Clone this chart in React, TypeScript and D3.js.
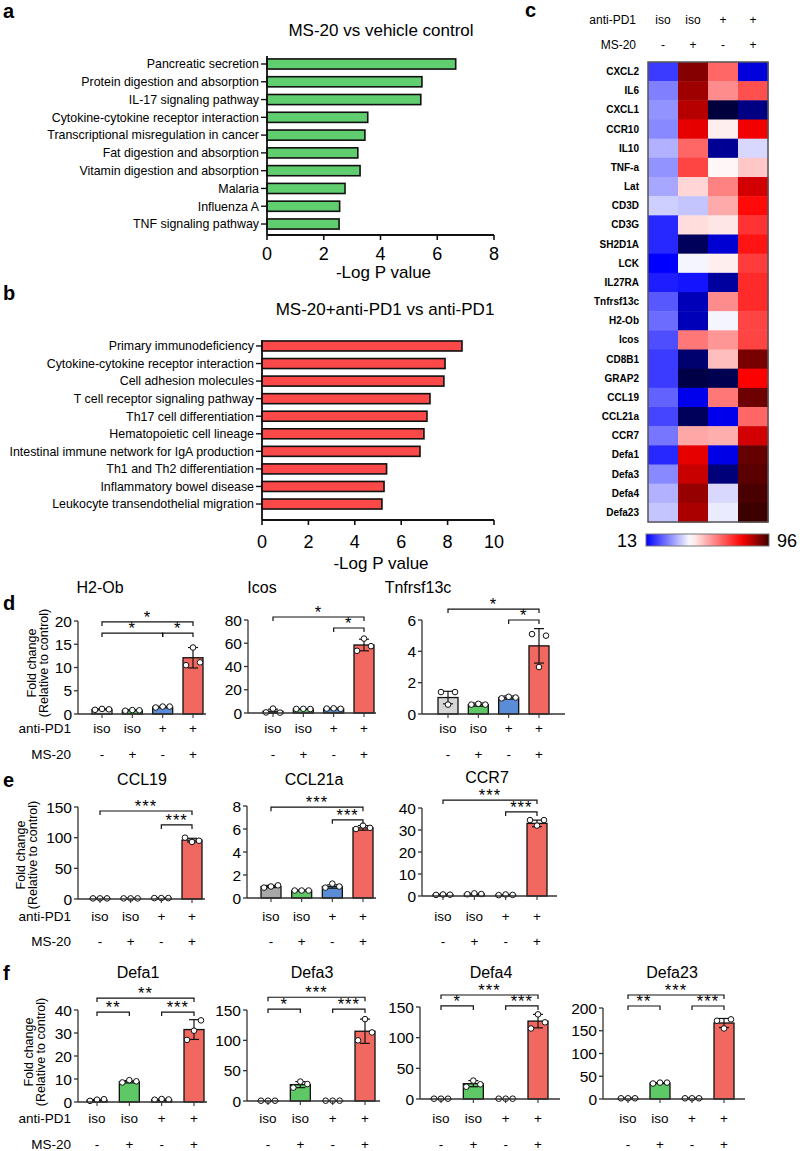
import React from "react";
import * as d3 from "d3";

const FONT = "Arial, 'Liberation Sans', Helvetica, sans-serif";

// ---------- Panel a ----------
const aTerms = [
  "Pancreatic secretion",
  "Protein digestion and absorption",
  "IL-17 signaling pathway",
  "Cytokine-cytokine receptor interaction",
  "Transcriptional misregulation in cancer",
  "Fat digestion and absorption",
  "Vitamin digestion and absorption",
  "Malaria",
  "Influenza A",
  "TNF signaling pathway",
];
const aValues = [6.65, 5.46, 5.42, 3.55, 3.45, 3.2, 3.28, 2.75, 2.56, 2.54];
const aTicks = [0, 2, 4, 6, 8];

// ---------- Panel b ----------
const bTerms = [
  "Primary immunodeficiency",
  "Cytokine-cytokine receptor interaction",
  "Cell adhesion molecules",
  "T cell receptor signaling pathway",
  "Th17 cell differentiation",
  "Hematopoietic cell lineage",
  "Intestinal immune network for IgA production",
  "Th1 and Th2 differentiation",
  "Inflammatory bowel disease",
  "Leukocyte transendothelial migration",
];
const bValues = [8.62, 7.89, 7.84, 7.24, 7.11, 6.98, 6.81, 5.37, 5.26, 5.17];
const bTicks = [0, 2, 4, 6, 8, 10];

// ---------- Panel c (heatmap) ----------
const hmGenes = [
  "CXCL2", "IL6", "CXCL1", "CCR10", "IL10", "TNF-a", "Lat", "CD3D", "CD3G",
  "SH2D1A", "LCK", "IL27RA", "Tnfrsf13c", "H2-Ob", "Icos", "CD8B1", "GRAP2",
  "CCL19", "CCL21a", "CCR7", "Defa1", "Defa3", "Defa4", "Defa23",
];
const hmPD1 = ["iso", "iso", "+", "+"];
const hmMS20 = ["-", "+", "-", "+"];
const hmValues = [
  [30, 90, 68, 22],
  [37, 88, 63.5, 70.6],
  [39, 86, 13, 17],
  [38, 82, 52, 81],
  [42, 68, 18, 46],
  [39, 72, 51, 56.5],
  [41, 55, 64.7, 83.7],
  [45, 44, 60, 79],
  [28, 54, 53, 74],
  [28, 14.7, 21.5, 77.6],
  [24, 49, 52, 73],
  [27, 26, 18.6, 75],
  [33, 20, 63.5, 75],
  [35, 20, 49, 72],
  [32, 66, 62.4, 72],
  [30, 15.8, 57.6, 91],
  [30, 13.6, 14.1, 80],
  [34, 23, 66, 92],
  [31, 14.7, 23, 68],
  [36, 60.5, 59.5, 83.7],
  [28, 82, 22.6, 92.7],
  [38, 84.5, 16.4, 93.5],
  [42, 88.6, 46, 94.8],
  [44, 87, 48, 96],
];
const hmMin = 13;
const hmMax = 96;

// ---------- Panels d-f ----------
const groupPD1 = ["iso", "iso", "+", "+"];
const groupMS20 = ["-", "+", "-", "+"];

const h2obMeans = [1.0, 0.8, 1.5, 12.1];
const h2obSD = [0.1, 0.1, 0.15, 2.2];
const h2obPts = [[0.9, 1.1, 1.0], [0.7, 0.85, 0.8], [1.4, 1.6, 1.6], [10.5, 14.3, 11.1]];

const icosMeans = [1.5, 3.5, 3.8, 58.5];
const icosSD = [1.8, 0.3, 0.4, 5];
const icosPts = [[0.5, 3.8, 0.3], [3.5, 3.6, 3.4], [3.8, 4.0, 3.6], [53.5, 64, 57.5]];

const tnfMeans = [1.05, 0.6, 1.05, 4.35];
const tnfSD = [0.4, 0.1, 0.1, 1.1];
const tnfPts = [[1.4, 0.6, 1.4], [0.6, 0.65, 0.6], [1.0, 1.1, 1.05], [5.1, 3.0, 5.0]];

const ccl19Means = [1, 1, 1.5, 96];
const ccl19SD = [0.1, 0.1, 0.2, 3];
const ccl19Pts = [[1, 1, 1], [1, 1, 1], [1.5, 1.5, 1.5], [100, 93, 95]];

const ccl21Means = [1.0, 0.65, 1.0, 6.1];
const ccl21SD = [0.1, 0.05, 0.15, 0.2];
const ccl21Pts = [[0.9, 1.0, 1.1], [0.65, 0.65, 0.65], [0.9, 1.25, 1.0], [6.0, 6.3, 6.1]];

const ccr7Means = [0.6, 0.9, 0.5, 33];
const ccr7SD = [0.2, 0.3, 0.2, 1.5];
const ccr7Pts = [[0.5, 0.7, 0.6], [0.8, 1.2, 0.9], [0.4, 0.7, 0.5], [34.5, 32, 34.5]];

const defa1Means = [0.8, 8.8, 1.0, 31.5];
const defa1SD = [0.3, 0.5, 0.3, 4.3];
const defa1Pts = [[0.5, 1.0, 1.2], [8.5, 9.5, 9.0], [1.0, 1.3, 1.1], [27, 31, 35.5]];

const defa3Means = [0.5, 27, 0.5, 115];
const defa3SD = [0.3, 5, 0.3, 20];
const defa3Pts = [[0.5, 0.5, 0.5], [22, 32, 28], [0.5, 0.5, 0.5], [100, 135, 113]];

const defa4Means = [0.5, 25, 0.5, 127];
const defa4SD = [0.3, 5, 0.3, 11];
const defa4Pts = [[0.5, 0.5, 0.5], [20, 30, 24], [0.5, 0.5, 0.5], [115, 138, 125]];

const defa23Means = [1.5, 35, 1.5, 167];
const defa23SD = [0.3, 1, 0.3, 10];
const defa23Pts = [[1.5, 1.5, 1.5], [34, 36, 36], [1.5, 1.5, 1.5], [172, 155, 175]];

// brackets: [fromGroup, toGroup, heightInDataUnits, label]
const h2obBr: [number, number, number, string][] = [[0, 3, 19.8, "*"], [0, 2, 17.4, "*"], [2, 3, 17.4, "*"]];
const icosBr: [number, number, number, string][] = [[0, 3, 82.6, "*"], [2, 3, 73.1, "*"]];
const tnfBr: [number, number, number, string][] = [[0, 3, 6.7, "*"], [2, 3, 6.0, "*"]];
const ccl19Br: [number, number, number, string][] = [[0, 3, 143.5, "***"], [2, 3, 120.7, "***"]];
const ccl21Br: [number, number, number, string][] = [[0, 3, 7.9, "***"], [2, 3, 6.8, "***"]];
const ccr7Br: [number, number, number, string][] = [[0, 3, 43.6, "***"], [2, 3, 38.2, "***"]];
const defa1Br: [number, number, number, string][] = [[0, 3, 45.2, "**"], [0, 1, 39.1, "**"], [2, 3, 39.1, "***"]];
const defa3Br: [number, number, number, string][] = [[0, 3, 171, "***"], [0, 1, 151.6, "*"], [2, 3, 151.6, "***"]];
const defa4Br: [number, number, number, string][] = [[0, 3, 169.6, "***"], [0, 1, 151.7, "*"], [2, 3, 151.7, "***"]];
const defa23Br: [number, number, number, string][] = [[0, 3, 228.6, "***"], [0, 1, 204.4, "**"], [2, 3, 204.4, "***"]];

const GREEN = "#5ec866";
const BLUE = "#5b8cd6";
const RED = "#f0685f";

interface ChartSpec {
  title: string;
  tx: number;
  ty: number;
  ax: number;
  c0: number;
  c3: number;
  xEnd: number;
  y0: number;
  yTop: number;
  max: number;
  ticks: number[];
  means: number[];
  sds: number[];
  pts: number[][];
  br: [number, number, number, string][];
  firstFill: string;
  ly1: number;
  ly2: number;
  rowNames: boolean;
}

function BarChart({ s }: { s: ChartSpec }) {
  const y = d3.scaleLinear().domain([0, s.max]).range([s.y0, s.yTop]);
  const x = d3.scalePoint<number>().domain([0, 1, 2, 3]).range([s.c0, s.c3]);
  const bw = 20;
  const fills = [s.firstFill, GREEN, BLUE, RED];
  const offs = [-7, 0, 7];
  const axisColor = "#333";
  return (
    <g fontFamily={FONT}>
      <text x={s.tx} y={s.ty} fontSize={16} textAnchor="middle">{s.title}</text>
      {s.means.map((m, i) => (
        <rect key={"b" + i} x={x(i)! - bw / 2} y={y(m)} width={bw} height={s.y0 - y(m)}
          fill={fills[i]} stroke="#111" strokeWidth={1.3} />
      ))}
      {s.means.map((m, i) => {
        const cx = x(i)!;
        const hi = y(m + s.sds[i]);
        const lo = y(Math.max(0, m - s.sds[i]));
        return (
          <g key={"e" + i} stroke="#111" strokeWidth={1.2}>
            <line x1={cx} x2={cx} y1={hi} y2={lo} />
            <line x1={cx - 5} x2={cx + 5} y1={hi} y2={hi} />
            <line x1={cx - 5} x2={cx + 5} y1={lo} y2={lo} />
          </g>
        );
      })}
      {s.pts.map((arr, i) =>
        arr.map((v, k) => (
          <circle key={"p" + i + "-" + k} cx={x(i)! + offs[k]} cy={y(v)} r={2.8}
            fill="#fff" stroke="#111" strokeWidth={1} />
        ))
      )}
      <line x1={s.ax} x2={s.ax} y1={s.yTop} y2={s.y0} stroke={axisColor} strokeWidth={1.3} />
      <line x1={s.ax} x2={s.xEnd} y1={s.y0} y2={s.y0} stroke={axisColor} strokeWidth={1.3} />
      {s.ticks.map((t) => (
        <g key={"t" + t}>
          <line x1={s.ax - 4} x2={s.ax} y1={y(t)} y2={y(t)} stroke={axisColor} strokeWidth={1.3} />
          <text x={s.ax - 6} y={y(t) + 5.5} fontSize={15.5} textAnchor="end">{t}</text>
        </g>
      ))}
      {[0, 1, 2, 3].map((i) => (
        <line key={"xt" + i} x1={x(i)} x2={x(i)} y1={s.y0} y2={s.y0 + 4} stroke={axisColor} strokeWidth={1.1} />
      ))}
      {s.br.map(([a, b, h, lab], k) => {
        const yy = y(h);
        const xa = x(a)!;
        const xb = x(b)!;
        return (
          <g key={"br" + k}>
            <path d={`M${xa},${yy + 4}V${yy}H${xb}V${yy + 4}`} fill="none" stroke="#111" strokeWidth={1.2} />
            <text x={(xa + xb) / 2} y={yy + 1} fontSize={16.5} textAnchor="middle" letterSpacing={1}>{lab}</text>
          </g>
        );
      })}
      {s.rowNames && (
        <g fontSize={13.5} textAnchor="end">
          <text x={71} y={s.ly1}>anti-PD1</text>
          <text x={71} y={s.ly2}>MS-20</text>
        </g>
      )}
      {groupPD1.map((g, i) => (
        <text key={"g1" + i} x={x(i)} y={s.ly1} fontSize={13.5} textAnchor="middle">{g}</text>
      ))}
      {groupMS20.map((g, i) => (
        <text key={"g2" + i} x={x(i)} y={s.ly2} fontSize={13.5} textAnchor="middle">{g}</text>
      ))}
    </g>
  );
}

function YTitle({ x, y }: { x: number; y: number }) {
  return (
    <g fontFamily={FONT} fontSize={12.5} textAnchor="middle">
      <text transform={`translate(${x},${y}) rotate(-90)`}>Fold change</text>
      <text transform={`translate(${x + 12},${y}) rotate(-90)`}>(Relative to control)</text>
    </g>
  );
}

function HBarPanel({
  terms, values, ticks, max, x0, x1, yStart, step, axisY, yAxisTop, fill, tickLabelY, titleY, title, titleX, xTitleY,
}: {
  terms: string[]; values: number[]; ticks: number[]; max: number; x0: number; x1: number;
  yStart: number; step: number; axisY: number; yAxisTop: number; fill: string; tickLabelY: number;
  titleY: number; title: string; titleX: number; xTitleY: number;
}) {
  const x = d3.scaleLinear().domain([0, max]).range([x0, x1]);
  const yb = d3.scaleBand<string>().domain(terms).range([yStart, yStart + step * terms.length]).paddingInner(0.43).paddingOuter(0.215);
  return (
    <g fontFamily={FONT}>
      <text x={titleX} y={titleY} fontSize={17} textAnchor="middle">{title}</text>
      {terms.map((t, i) => (
        <g key={t}>
          <rect x={x0} y={yb(t)} width={x(values[i]) - x0} height={yb.bandwidth()} fill={fill} stroke="#111" strokeWidth={1.6} />
          <line x1={x0 - 6} x2={x0} y1={yb(t)! + yb.bandwidth() / 2} y2={yb(t)! + yb.bandwidth() / 2} stroke="#111" strokeWidth={1.4} />
          <text x={x0 - 8} y={yb(t)! + yb.bandwidth() / 2 + 4.3} fontSize={12.4} textAnchor="end">{t}</text>
        </g>
      ))}
      <line x1={x0} x2={x0} y1={yAxisTop} y2={axisY} stroke="#111" strokeWidth={1.8} />
      <line x1={x0} x2={x1} y1={axisY} y2={axisY} stroke="#111" strokeWidth={1.8} />
      {ticks.map((t) => (
        <g key={t}>
          <line x1={x(t)} x2={x(t)} y1={axisY} y2={axisY + 5} stroke="#111" strokeWidth={1.6} />
          <text x={x(t)} y={tickLabelY} fontSize={18} textAnchor="middle">{t}</text>
        </g>
      ))}
      <text x={(x0 + x1) / 2 + 3} y={xTitleY} fontSize={17} textAnchor="middle">-Log P value</text>
    </g>
  );
}

function Heatmap() {
  const left = 648, right = 768, top = 62, bottom = 522;
  const xb = d3.scaleBand<number>().domain([0, 1, 2, 3]).range([left, right]);
  const yb = d3.scaleBand<string>().domain(hmGenes).range([top, bottom]);
  const color = d3.scaleLinear<string>()
    .domain([hmMin, 24, 50, 80, hmMax])
    .range(["#00003c", "#0000ff", "#ffffff", "#ff0000", "#3c0000"])
    .interpolate(d3.interpolateRgb);
  const cbL = 646, cbR = 769, cbT = 534, cbB = 546;
  const stops = d3.range(0, 1.0001, 0.05).map((t) => ({ t, c: color(24 + t * (hmMax - 24)) }));
  return (
    <g fontFamily={FONT}>
      <defs>
        <linearGradient id="cbgrad" x1="0" x2="1" y1="0" y2="0">
          {stops.map((s) => (
            <stop key={s.t} offset={`${s.t * 100}%`} stopColor={s.c} />
          ))}
        </linearGradient>
      </defs>
      <text x={636} y={24} fontSize={12} textAnchor="end">anti-PD1</text>
      <text x={636} y={49} fontSize={12} textAnchor="end">MS-20</text>
      {hmPD1.map((g, i) => (
        <text key={"h1" + i} x={xb(i)! + xb.bandwidth() / 2} y={24} fontSize={12} textAnchor="middle">{g}</text>
      ))}
      {hmMS20.map((g, i) => (
        <text key={"h2" + i} x={xb(i)! + xb.bandwidth() / 2} y={49} fontSize={12} textAnchor="middle">{g}</text>
      ))}
      {hmGenes.map((g, r) => (
        <g key={g}>
          {hmValues[r].map((v, c) => (
            <rect key={c} x={xb(c)} y={yb(g)} width={xb.bandwidth() + 0.5} height={yb.bandwidth() + 0.5} fill={color(v)} />
          ))}
          <text x={639} y={yb(g)! + yb.bandwidth() / 2 + 3.5} fontSize={10} fontWeight="bold" textAnchor="end">{g}</text>
        </g>
      ))}
      <rect x={left} y={top} width={right - left} height={bottom - top} fill="none" stroke="#555" strokeWidth={1.5} />
      <rect x={cbL} y={cbT} width={cbR - cbL} height={cbB - cbT} fill="url(#cbgrad)" stroke="#777" strokeWidth={1} />
      <text x={637} y={547} fontSize={18} textAnchor="end">{hmMin}</text>
      <text x={777} y={547} fontSize={18} textAnchor="start">{hmMax}</text>
    </g>
  );
}

const charts: ChartSpec[] = [
  { title: "H2-Ob", tx: 100, ty: 593, ax: 78, c0: 102, c3: 193, xEnd: 206, y0: 714, yTop: 621, max: 20, ticks: [0, 5, 10, 15, 20],
    means: h2obMeans, sds: h2obSD, pts: h2obPts, br: h2obBr, firstFill: "#e4e4e4", ly1: 733, ly2: 759, rowNames: true },
  { title: "Icos", tx: 262, ty: 593, ax: 248, c0: 273, c3: 364, xEnd: 376, y0: 713, yTop: 620, max: 80, ticks: [0, 20, 40, 60, 80],
    means: icosMeans, sds: icosSD, pts: icosPts, br: icosBr, firstFill: "#d6d6d6", ly1: 733, ly2: 759, rowNames: false },
  { title: "Tnfrsf13c", tx: 418, ty: 593, ax: 422, c0: 448, c3: 539, xEnd: 565, y0: 714, yTop: 620, max: 6, ticks: [0, 2, 4, 6],
    means: tnfMeans, sds: tnfSD, pts: tnfPts, br: tnfBr, firstFill: "#d6d6d6", ly1: 733, ly2: 759, rowNames: false },
  { title: "CCL19", tx: 142, ty: 785, ax: 78, c0: 100, c3: 192, xEnd: 205, y0: 899, yTop: 807, max: 150, ticks: [0, 50, 100, 150],
    means: ccl19Means, sds: ccl19SD, pts: ccl19Pts, br: ccl19Br, firstFill: "#a8a8a8", ly1: 921, ly2: 946, rowNames: true },
  { title: "CCL21a", tx: 314, ty: 785, ax: 247, c0: 271, c3: 363, xEnd: 376, y0: 898, yTop: 806, max: 8, ticks: [0, 2, 4, 6, 8],
    means: ccl21Means, sds: ccl21SD, pts: ccl21Pts, br: ccl21Br, firstFill: "#a8a8a8", ly1: 921, ly2: 946, rowNames: false },
  { title: "CCR7", tx: 487, ty: 783, ax: 422, c0: 443, c3: 537, xEnd: 557, y0: 896, yTop: 808, max: 40, ticks: [0, 10, 20, 30, 40],
    means: ccr7Means, sds: ccr7SD, pts: ccr7Pts, br: ccr7Br, firstFill: "#a8a8a8", ly1: 921, ly2: 946, rowNames: false },
  { title: "Defa1", tx: 138, ty: 978, ax: 78, c0: 97, c3: 194, xEnd: 207, y0: 1102, yTop: 1010, max: 40, ticks: [0, 10, 20, 30, 40],
    means: defa1Means, sds: defa1SD, pts: defa1Pts, br: defa1Br, firstFill: "#a8a8a8", ly1: 1123, ly2: 1149, rowNames: true },
  { title: "Defa3", tx: 312, ty: 978, ax: 247, c0: 268, c3: 365, xEnd: 380, y0: 1101, yTop: 1010, max: 150, ticks: [0, 50, 100, 150],
    means: defa3Means, sds: defa3SD, pts: defa3Pts, br: defa3Br, firstFill: "#a8a8a8", ly1: 1123, ly2: 1149, rowNames: false },
  { title: "Defa4", tx: 491, ty: 978, ax: 420, c0: 441, c3: 538, xEnd: 560, y0: 1099, yTop: 1007, max: 150, ticks: [0, 50, 100, 150],
    means: defa4Means, sds: defa4SD, pts: defa4Pts, br: defa4Br, firstFill: "#a8a8a8", ly1: 1123, ly2: 1149, rowNames: false },
  { title: "Defa23", tx: 672, ty: 978, ax: 603, c0: 628, c3: 724, xEnd: 745, y0: 1099, yTop: 1008, max: 200, ticks: [0, 50, 100, 150, 200],
    means: defa23Means, sds: defa23SD, pts: defa23Pts, br: defa23Br, firstFill: "#a8a8a8", ly1: 1123, ly2: 1149, rowNames: false },
];

export default function App() {
  return (
    <svg width={800} height={1151} viewBox="0 0 800 1151" style={{ position: "absolute", left: 0, top: 0, background: "#fff" }}>
      <rect x={0} y={0} width={800} height={1151} fill="#fff" />
      <g fontFamily={FONT} fontWeight="bold" fontSize={20}>
        <text x={3} y={18}>a</text>
        <text x={3} y={300}>b</text>
        <text x={525} y={17}>c</text>
        <text x={3} y={610}>d</text>
        <text x={3} y={787}>e</text>
        <text x={3} y={980}>f</text>
      </g>
      <HBarPanel terms={aTerms} values={aValues} ticks={aTicks} max={8} x0={267} x1={494}
        yStart={55.1} step={17.78} axisY={235} yAxisTop={56} fill="#60cd6e" tickLabelY={260}
        titleY={36} title="MS-20 vs vehicle control" titleX={381} xTitleY={278} />
      <HBarPanel terms={bTerms} values={bValues} ticks={bTicks} max={10} x0={262} x1={494}
        yStart={337.2} step={17.56} axisY={520} yAxisTop={340} fill="#fb4848" tickLabelY={548}
        titleY={315} title="MS-20+anti-PD1 vs anti-PD1" titleX={385} xTitleY={569} />
      <Heatmap />
      <YTitle x={36} y={663} />
      <YTitle x={25} y={855} />
      <YTitle x={33} y={1052} />
      {charts.map((c) => (
        <BarChart key={c.title} s={c} />
      ))}
    </svg>
  );
}
